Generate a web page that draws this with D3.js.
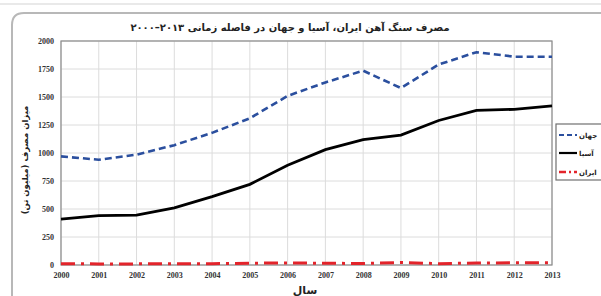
<!DOCTYPE html>
<html>
<head>
<meta charset="utf-8">
<script src="https://cdn.jsdelivr.net/npm/d3@7"></script>
<style>
  body { margin: 0; background: #fff; }
  svg { display: block; }
</style>
</head>
<body>
<div class="chart"></div>
<script>
// data
let years = [2000, 2001, 2002, 2003, 2004, 2005, 2006, 2007, 2008, 2009, 2010, 2011, 2012, 2013]
let world = [970, 940, 985, 1070, 1180, 1310, 1510, 1630, 1735, 1580, 1790, 1900, 1860, 1860]
let asia = [410, 440, 445, 510, 610, 720, 890, 1030, 1120, 1160, 1290, 1380, 1390, 1420]
let iran = [12, 10, 10, 11, 12, 16, 18, 16, 13, 22, 12, 17, 20, 20]
let yTicks = [0, 250, 500, 750, 1000, 1250, 1500, 1750, 2000]
let seriesNames = ['جهان', 'آسیا', 'ایران']
let title = 'مصرف سنگ آهن ایران، آسیا و جهان در فاصله زمانی ۲۰۱۳–۲۰۰۰'
let yTitle = 'میزان مصرف (میلیون تن)'
let xTitle = 'سال'

let W = 601, H = 296
let margin = { left: 61, right: 49, top: 41, bottom: 31 }
let width = W - margin.left - margin.right
let height = H - margin.top - margin.bottom

let svg = d3.select('.chart')
    .append('svg')
    .attr('width', W)
    .attr('height', H)

// outer frame of the scanned figure
svg.append('line')
    .attr('x1', 0).attr('x2', W).attr('y1', 4).attr('y2', 4)
    .attr('stroke', '#e2e2e2').attr('stroke-width', 1.5)
svg.append('path')
    .attr('d', 'M12,' + (H + 2) + ' L12,25 Q12,13 24,13 L' + (W + 2) + ',13')
    .attr('fill', 'none')
    .attr('stroke', '#b8b8b8')
    .attr('stroke-width', 2)

svg.append('text')
    .attr('x', 290).attr('y', 31)
    .attr('text-anchor', 'middle')
    .style('font-family', 'DejaVu Sans')
    .style('font-weight', 'bold')
    .style('font-size', '10px')
    .attr('fill', '#222')
    .text(title)

let g = svg.append('g')
    .attr('transform', 'translate(' + margin.left + ',' + margin.top + ')')

//scales
let x = d3.scaleLinear().domain([2000, 2013]).range([0, width])
let y = d3.scaleLinear().domain([0, 2000]).range([height, 0])

// grid
g.append('g').selectAll('line').data(yTicks).join('line')
    .attr('x1', 0).attr('x2', width)
    .attr('y1', d => y(d)).attr('y2', d => y(d))
    .attr('stroke', '#dcdcdc')
g.append('g').selectAll('line').data(years).join('line')
    .attr('x1', d => x(d)).attr('x2', d => x(d))
    .attr('y1', 0).attr('y2', height)
    .attr('stroke', '#dcdcdc')

// frame of plot
g.append('rect')
    .attr('width', width).attr('height', height)
    .attr('fill', 'none')
    .attr('stroke', '#8c8c8c')
    .attr('stroke-width', 1.2)

//Axis
let yAxis = d3.axisLeft(y).tickValues(yTicks).tickFormat(d3.format('d')).tickSize(0).tickPadding(7)
g.append('g').call(yAxis)
    .call(a => a.select('.domain').remove())
    .selectAll('text')
    .style('font-family', 'Liberation Serif')
    .style('font-weight', 'bold')
    .style('font-size', '8px')
    .attr('fill', '#333')

let xAxis = d3.axisBottom(x).tickValues(years).tickFormat(d3.format('d')).tickSize(0).tickPadding(7)
g.append('g')
    .attr('transform', 'translate(0,' + height + ')')
    .call(xAxis)
    .call(a => a.select('.domain').remove())
    .selectAll('text')
    .style('font-family', 'Liberation Serif')
    .style('font-weight', 'bold')
    .style('font-size', '8px')
    .attr('fill', '#333')

svg.append('text')
    .attr('transform', 'translate(28,160) rotate(-90)')
    .attr('text-anchor', 'middle')
    .style('font-family', 'DejaVu Sans')
    .style('font-weight', 'bold')
    .style('font-size', '8.5px')
    .attr('fill', '#222')
    .text(yTitle)

svg.append('text')
    .attr('x', 305).attr('y', 294)
    .attr('text-anchor', 'middle')
    .style('font-family', 'DejaVu Sans')
    .style('font-weight', 'bold')
    .style('font-size', '11px')
    .attr('fill', '#222')
    .text(xTitle)

let line = d3.line()
    .x((d, i) => x(years[i]))
    .y(d => y(d))

let styles = [
    { data: world, color: '#2b4f9e', width: 2.6, dash: '7,4' },
    { data: asia, color: '#000', width: 2.8, dash: null },
    { data: iran, color: '#e3242b', width: 3, dash: '14,6,3,6' }
]

styles.forEach(s => {
    g.append('path')
        .attr('fill', 'none')
        .attr('stroke', s.color)
        .attr('stroke-width', s.width)
        .attr('stroke-dasharray', s.dash)
        .attr('d', line(s.data))
})

// legend
let lg = svg.append('g').attr('transform', 'translate(556,124)')
lg.append('rect')
    .attr('width', 60).attr('height', 56)
    .attr('fill', '#fff')
    .attr('stroke', '#707070')
    .attr('stroke-width', 1.2)
let ly = [11, 29, 48]
styles.forEach((s, i) => {
    lg.append('line')
        .attr('x1', 3).attr('x2', 21)
        .attr('y1', ly[i]).attr('y2', ly[i])
        .attr('stroke', s.color)
        .attr('stroke-width', s.width - 0.6)
        .attr('stroke-dasharray', i == 0 ? '5,3' : (i == 2 ? '7,3,2,3' : null))
    lg.append('text')
        .attr('x', 23).attr('y', ly[i] + 3)
        .style('font-family', 'DejaVu Sans')
        .style('font-weight', 'bold')
        .style('font-size', '7px')
        .attr('fill', '#222')
        .text(seriesNames[i])
})
</script>
</body>
</html>
